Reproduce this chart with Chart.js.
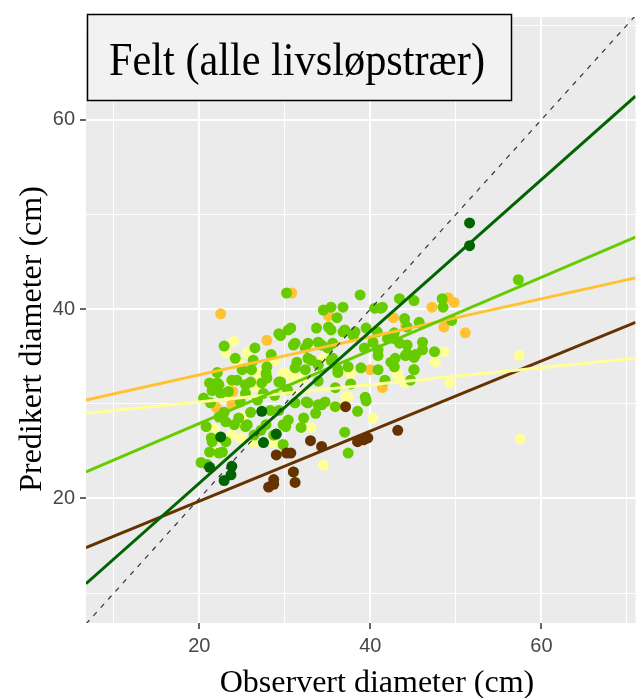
<!DOCTYPE html>
<html>
<head>
<meta charset="utf-8">
<script src="https://cdn.jsdelivr.net/npm/chart.js@4.4.1/dist/chart.umd.min.js"></script>
<style>
  html, body { margin: 0; padding: 0; background: #fff; }
</style>
</head>
<body>
<canvas id="myChart" width="641" height="698"></canvas>
<script>
// Texts
var titleText = 'Felt (alle livsløpstrær)';
var xTitle = 'Observert diameter (cm)';
var yTitle = 'Predikert diameter (cm)';

// Axis limits and ticks (both axes)
var xLimits = [6.75, 71.0];
var yLimits = [6.85, 70.85];
var tickValues = [10, 20, 30, 40, 50, 60, 70];
var tickLabels = ['', '20', '', '40', '', '60', ''];

// Observed / predicted diameter per group, [obs, pred]
var darkGreenPts = [[51.6,49.1],[51.6,46.7],[27.3,29.2],[22.5,26.5],[29.0,26.8],[27.5,25.9],[21.2,23.3],[23.8,23.4],[23.7,22.5],[22.9,21.9]];
var brownPts = [[29.0,24.6],[30.2,24.8],[28.7,22.0],[31.0,22.8],[28.1,21.2],[28.7,21.5],[37.1,29.7],[33.0,26.1],[34.3,25.5],[30.7,24.8],[38.5,26.0],[39.7,26.4],[39.2,26.2],[43.2,27.2],[31.2,21.7]];
var orangePts = [[22.5,39.5],[30.8,41.7],[27.9,36.7],[35.1,39.3],[42.7,39.1],[40.0,33.6],[47.2,40.2],[44.1,38.3],[48.6,38.1],[51.1,37.5],[49.8,40.7],[49.1,41.2],[23.9,31.3],[22.0,29.6],[23.8,29.9],[41.4,31.7]];
var paleYellowPts = [[57.4,35.1],[57.5,26.3],[48.6,35.5],[49.3,32.2],[23.1,35.4],[25.6,35.4],[24.6,34.4],[26.9,33.2],[29.8,33.2],[30.8,33.2],[37.6,33.3],[34.5,34.8],[47.6,34.4],[43.2,33.0],[23.8,32.3],[26.6,31.8],[25.0,28.6],[24.6,27.8],[24.9,26.4],[22.5,24.9],[28.7,25.9],[26.4,25.9],[37.4,30.7],[36.2,29.7],[40.3,28.5],[33.1,27.5],[34.5,23.5],[26.6,32.0],[30.1,33.2],[30.8,32.8],[36.2,33.2],[21.5,24.9],[22.0,26.4],[23.8,26.7],[35.9,29.7],[43.2,33.2],[44.0,32.2],[37.1,30.7],[37.7,33.2],[24.0,36.6],[28.9,34.6],[32.0,32.6],[21.8,27.3]];
var lightGreenPts = [[57.3,43.1],[48.4,41.1],[48.5,40.2],[49.5,38.8],
  [30.2,41.7],[29.5,37.2],[30.4,37.8],[22.9,36.1],[26.5,35.9],[22.1,33.3],[27.9,33.9],[27.8,33.2],[25.0,33.6],
  [38.8,41.5],[34.5,39.9],[35.4,40.2],[36.8,40.2],[36.1,39.1],[41.2,40.1],[30.7,38.0],[33.7,38.0],[35.1,38.1],[36.8,37.6],[38.2,37.6],[39.5,38.0],
  [31.2,36.4],[32.7,36.4],[34.3,36.2],[35.6,36.4],[40.3,36.5],[42.0,36.9],[31.4,34.4],[33.1,34.6],[35.6,34.8],[40.9,35.1],[42.4,34.4],[32.4,33.6],[36.2,33.3],[38.9,33.8],
  [45.1,40.9],[44.0,39.0],[42.8,37.5],[44.3,38.1],[45.7,38.6],[43.4,36.4],[44.3,36.2],[46.1,36.5],[44.1,35.1],[45.3,35.2],[47.5,35.5],[45.1,33.6],[42.9,34.8],
  [22.1,32.2],[24.4,32.5],[26.0,32.3],[27.9,32.7],[29.5,32.3],[22.5,31.1],[25.4,31.1],[27.5,31.1],[22.9,29.1],[26.0,29.1],[28.3,29.3],[24.1,27.8],[25.6,27.8],[27.8,27.8],[29.8,27.8],
  [21.4,26.4],[23.1,26.0],[21.2,24.9],[22.3,24.8],[26.4,26.7],[28.7,26.7],[29.8,25.7],[20.2,23.8],[20.9,23.6],
  [32.7,30.1],[34.3,29.9],[35.9,29.7],[39.5,30.3],[31.9,27.5],[37.0,27.0],[37.4,24.8],[31.0,22.8],
  [29.3,37.4],[31.0,36.2],[32.4,35.9],[33.9,36.5],[35.4,37.8],[37.0,37.8],[38.0,37.2],[33.9,34.1],[35.4,34.6],[36.2,33.6],[37.4,33.9],
  [26.1,33.6],[27.3,32.2],[29.3,32.3],[22.3,32.0],[23.8,32.5],[25.4,32.0],[31.2,30.1],[32.5,30.2],[33.9,29.9],[34.7,30.2],[29.3,29.3],[30.4,28.3],[32.2,28.5],[33.6,29.0],
  [23.1,28.1],[24.6,28.5],[25.4,27.6],[22.7,24.9],[21.5,26.0],[21.2,32.2],[21.5,31.4],[22.3,28.6],[20.8,27.6],[27.2,27.2],[30.1,27.6],
  [40.9,33.6],[41.7,32.5],[42.8,33.9],[44.7,32.5],[45.1,33.6],[39.4,30.7],[44.3,35.3],[45.1,34.9],[46.1,35.7],[40.9,35.7],[40.5,40.1],[41.4,40.2],[43.4,41.1],
  [20.5,30.6],[21.3,30.1],[23.4,31.3],[28.4,35.2],[31.2,33.8],[32.7,34.8],[35.0,35.9],[39.3,35.9],[40.8,37.6],[42.7,36.9],[33.9,32.4],[35.9,31.7],[37.7,32.1],[38.5,29.2],
  [24.8,30.2],[26.8,30.4],[28.8,30.9],[30.3,31.5],[24.2,34.8],[26.3,34.6]];

// Fitted lines: predicted value at the left and right x limits
var darkGreenFit = [11.0, 62.5];
var lightGreenFit = [22.8, 47.6];
var orangeFit = [30.4, 43.3];
var paleYellowFit = [29.0, 34.8];
var brownFit = [14.8, 38.6];

function toXY(arr) {
  return arr.map(function (p) { return { x: p[0], y: p[1] }; });
}
function fitLine(ends) {
  return [{ x: xLimits[0], y: ends[0] }, { x: xLimits[1], y: ends[1] }];
}

function pointSet(pts, color, order) {
  return { data: toXY(pts), backgroundColor: color, borderWidth: 0, pointRadius: 5.5, pointHoverRadius: 5.5, order: order, clip: 0 };
}
function lineSet(ends, color) {
  return { data: fitLine(ends), showLine: true, borderColor: color, borderWidth: 3, pointRadius: 0, fill: false, order: 1, clip: 0 };
}

// Panel background and title box
var panelPlugin = {
  id: 'panel',
  beforeDraw: function (chart) {
    var a = chart.chartArea, c = chart.ctx;
    c.save();
    c.fillStyle = '#EBEBEB';
    c.fillRect(a.left, a.top, a.right - a.left, a.bottom - a.top);
    c.restore();
  },
  afterDraw: function (chart) {
    var c = chart.ctx;
    c.save();
    // axis titles
    c.fillStyle = '#000';
    c.font = '32px "Liberation Serif", "Times New Roman", serif';
    c.textAlign = 'center';
    c.textBaseline = 'alphabetic';
    c.fillText(xTitle, 377, 692);
    c.save();
    c.translate(41, 339);
    c.rotate(-Math.PI / 2);
    c.fillText(yTitle, 0, 0);
    c.restore();
    // title box
    c.fillStyle = '#F2F2F2';
    c.fillRect(87, 14, 425, 87);
    c.strokeStyle = '#000';
    c.lineWidth = 1.5;
    c.strokeRect(87.5, 14.5, 424, 86);
    c.fillStyle = '#000';
    c.font = '47px "Liberation Serif", "Times New Roman", serif';
    c.translate(297, 75);
    c.scale(0.9, 1);
    c.fillText(titleText, 0, 0);
    c.restore();
  }
};

function axisOpts(limits, isY) {
  return {
    type: 'linear',
    min: limits[0],
    max: limits[1],
    afterBuildTicks: function (s) {
      s.ticks = tickValues.map(function (v) { return { value: v }; });
    },
    afterFit: function (s) {
      if (isY) { s.width = 86; } else { s.height = 75; }
    },
    border: { display: false },
    grid: {
      color: '#FFFFFF',
      lineWidth: function (ctx) { return ctx.tick && ctx.tick.value % 20 === 0 ? 2 : 1; },
      tickColor: function (ctx) { return ctx.tick && ctx.tick.value % 20 === 0 ? '#333333' : 'rgba(0,0,0,0)'; },
      tickWidth: 1.5,
      tickLength: 6,
      drawTicks: true
    },
    ticks: {
      autoSkip: false,
      maxRotation: 0,
      padding: 5,
      color: '#484848',
      font: { family: '"Liberation Sans", Arial, sans-serif', size: 20 },
      callback: function (v, i) { return tickLabels[i]; }
    }
  };
}

var ctx = document.getElementById('myChart').getContext('2d');
var myChart = new Chart(ctx, {
  type: 'scatter',
  data: {
    datasets: [
      // 1:1 reference line
      { data: [{ x: xLimits[0], y: xLimits[0] }, { x: xLimits[1], y: xLimits[1] }], showLine: true, borderColor: '#333333', borderWidth: 1.2, borderDash: [5, 6], pointRadius: 0, order: 0, clip: 0 },
      lineSet(darkGreenFit, '#006400'),
      lineSet(lightGreenFit, '#66CC00'),
      lineSet(orangeFit, '#FFC233'),
      lineSet(paleYellowFit, '#FFFF99'),
      lineSet(brownFit, '#663300'),
      pointSet(darkGreenPts, '#006400', 2),
      pointSet(brownPts, '#663300', 3),
      pointSet(lightGreenPts, '#66CC00', 4),
      pointSet(orangePts, '#FFC233', 5),
      pointSet(paleYellowPts, '#FFFF99', 6)
    ]
  },
  options: {
    responsive: false,
    animation: false,
    devicePixelRatio: 1,
    layout: { padding: { top: 14, left: 0, right: 0, bottom: 0 } },
    plugins: { legend: { display: false }, tooltip: { enabled: false } },
    scales: {
      x: axisOpts(xLimits, false),
      y: axisOpts(yLimits, true)
    }
  },
  plugins: [panelPlugin]
});
</script>
</body>
</html>
